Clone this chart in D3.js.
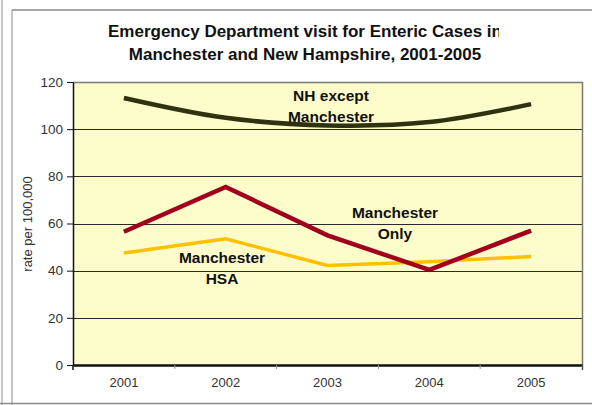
<!DOCTYPE html>
<html>
<head>
<meta charset="utf-8">
<script src="https://cdn.jsdelivr.net/npm/d3@7/dist/d3.min.js"></script>
<style>
  html, body { margin: 0; padding: 0; background: #fff; }
  svg { display: block; }
  text { font-family: "Liberation Sans", Arial, Helvetica, sans-serif; }
</style>
</head>
<body>
<svg id="chart" width="592" height="405"></svg>
<script>
// Emergency department visit rates (per 100,000) for enteric cases
const years = ["2001", "2002", "2003", "2004", "2005"];
const nhExceptManchester = [113.2, 104.8, 101.6, 103.0, 110.6];
const manchesterOnly = [56.5, 75.5, 55.0, 40.3, 57.0];
const manchesterHSA = [47.5, 53.5, 42.2, 43.8, 46.0];
const yTicks = [0, 20, 40, 60, 80, 100, 120];
const titleLines = [
  "Emergency Department visit for Enteric Cases in",
  "Manchester and New Hampshire, 2001-2005"
];
const yAxisTitle = "rate per 100,000";

const svg = d3.select("#chart");
const W = 592, H = 405;
const plot = { left: 73, right: 582, top: 82, bottom: 365 };

// outer frame
svg.append("rect").attr("x", 0).attr("y", 0).attr("width", W).attr("height", H).attr("fill", "#fff");
svg.append("line").attr("x1", 2).attr("x2", 2).attr("y1", 0).attr("y2", H)
  .attr("stroke", "#c8c8c8").attr("stroke-width", 2);
svg.append("line").attr("x1", 12).attr("x2", W).attr("y1", 10).attr("y2", 10)
  .attr("stroke", "#a6a6a6").attr("stroke-width", 2);
svg.append("line").attr("x1", 12).attr("x2", 12).attr("y1", 10).attr("y2", H)
  .attr("stroke", "#8a8a8a").attr("stroke-width", 1);
svg.append("line").attr("x1", 0).attr("x2", W).attr("y1", 403.5).attr("y2", 403.5)
  .attr("stroke", "#8a8a8a").attr("stroke-width", 1.5);

// scales
const x = d3.scaleBand().domain(years).range([plot.left, plot.right]);
const cx = d => x(d) + x.bandwidth() / 2;
const y = d3.scaleLinear().domain([0, 120]).range([plot.bottom, plot.top]);

// plot background
svg.append("rect")
  .attr("x", plot.left).attr("y", plot.top)
  .attr("width", plot.right - plot.left).attr("height", plot.bottom - plot.top)
  .attr("fill", "#fdfdcc");

// horizontal gridlines
svg.append("g").selectAll("line")
  .data(yTicks.filter(t => t > 0 && t < 120))
  .join("line")
  .attr("x1", plot.left).attr("x2", plot.right)
  .attr("y1", d => Math.round(y(d)) + 0.5).attr("y2", d => Math.round(y(d)) + 0.5)
  .attr("stroke", "#2a2a2a").attr("stroke-width", 1);

// plot border (top and right)
svg.append("path")
  .attr("d", `M${plot.left},${plot.top + 0.5}H${plot.right + 0.5}V${plot.bottom}`)
  .attr("fill", "none").attr("stroke", "#7a7a7a").attr("stroke-width", 1.5);

// y axis
const yAxis = svg.append("g")
  .attr("transform", `translate(${plot.left},0)`)
  .call(d3.axisLeft(y).tickValues(yTicks).tickSize(6).tickPadding(4).tickSizeOuter(0));
yAxis.select(".domain").attr("stroke", "#111").attr("stroke-width", 1.5);
yAxis.selectAll(".tick line").attr("stroke", "#111");
yAxis.selectAll(".tick text")
  .attr("fill", "#333").attr("font-size", 13.5)
  .attr("font-family", "Liberation Sans, Arial, sans-serif");

// x axis
const xAxis = svg.append("g")
  .attr("transform", `translate(0,${plot.bottom})`)
  .call(d3.axisBottom(x).tickSize(0).tickPadding(13).tickSizeOuter(0));
xAxis.select(".domain").attr("stroke", "#111").attr("stroke-width", 2.5);
xAxis.selectAll(".tick text")
  .attr("fill", "#333").attr("font-size", 13)
  .attr("font-family", "Liberation Sans, Arial, sans-serif");
// category separators below the axis
svg.append("g").selectAll("line")
  .data(years.slice(1))
  .join("line")
  .attr("x1", d => x(d)).attr("x2", d => x(d))
  .attr("y1", plot.bottom).attr("y2", plot.bottom + 4)
  .attr("stroke", "#9a9a9a").attr("stroke-width", 1);
svg.append("line").attr("x1", plot.left).attr("x2", plot.left)
  .attr("y1", plot.bottom).attr("y2", plot.bottom + 5).attr("stroke", "#111").attr("stroke-width", 1.5);
svg.append("line").attr("x1", plot.right + 0.5).attr("x2", plot.right + 0.5)
  .attr("y1", plot.bottom).attr("y2", plot.bottom + 5).attr("stroke", "#555").attr("stroke-width", 1.5);

// y axis title
svg.append("text")
  .attr("transform", `translate(32,224) rotate(-90)`)
  .attr("text-anchor", "middle")
  .attr("font-size", 13)
  .attr("fill", "#333")
  .text(yAxisTitle);

// series lines
const series = [
  { name: "Manchester HSA", values: manchesterHSA, color: "#ffc000", width: 3.5, curve: d3.curveLinear },
  { name: "Manchester Only", values: manchesterOnly, color: "#a0001c", width: 4.5, curve: d3.curveLinear },
  { name: "NH except Manchester", values: nhExceptManchester, color: "#2e3210", width: 4.5, curve: d3.curveCatmullRom.alpha(0.5) }
];
series.forEach(s => {
  const line = d3.line()
    .x((d, i) => cx(years[i]))
    .y(d => y(d))
    .curve(s.curve);
  svg.append("path")
    .datum(s.values)
    .attr("d", line)
    .attr("fill", "none")
    .attr("stroke", s.color)
    .attr("stroke-width", s.width)
    .attr("stroke-linejoin", "miter")
    .attr("stroke-linecap", "butt");
});

// series labels
const labels = [
  { lines: ["NH except", "Manchester"], x: 331, y: 101 },
  { lines: ["Manchester", "Only"], x: 395, y: 218 },
  { lines: ["Manchester", "HSA"], x: 222, y: 263 }
];
labels.forEach(l => {
  const t = svg.append("text")
    .attr("text-anchor", "middle")
    .attr("font-size", 15.5)
    .attr("font-weight", "bold")
    .attr("fill", "#111");
  l.lines.forEach((ln, i) => {
    t.append("tspan").attr("x", l.x).attr("y", l.y + i * 20.5).text(ln);
  });
});

// title, clipped at the right where the frame ends
svg.append("clipPath").attr("id", "titleClip")
  .append("rect").attr("x", 0).attr("y", 0).attr("width", 499).attr("height", 80);
const title = svg.append("g").attr("clip-path", "url(#titleClip)");
titleLines.forEach((ln, i) => {
  title.append("text")
    .attr("x", 305)
    .attr("y", 37 + i * 23)
    .attr("text-anchor", "middle")
    .attr("font-size", 17)
    .attr("font-weight", "bold")
    .attr("fill", "#111")
    .text(ln);
});
</script>
</body>
</html>
